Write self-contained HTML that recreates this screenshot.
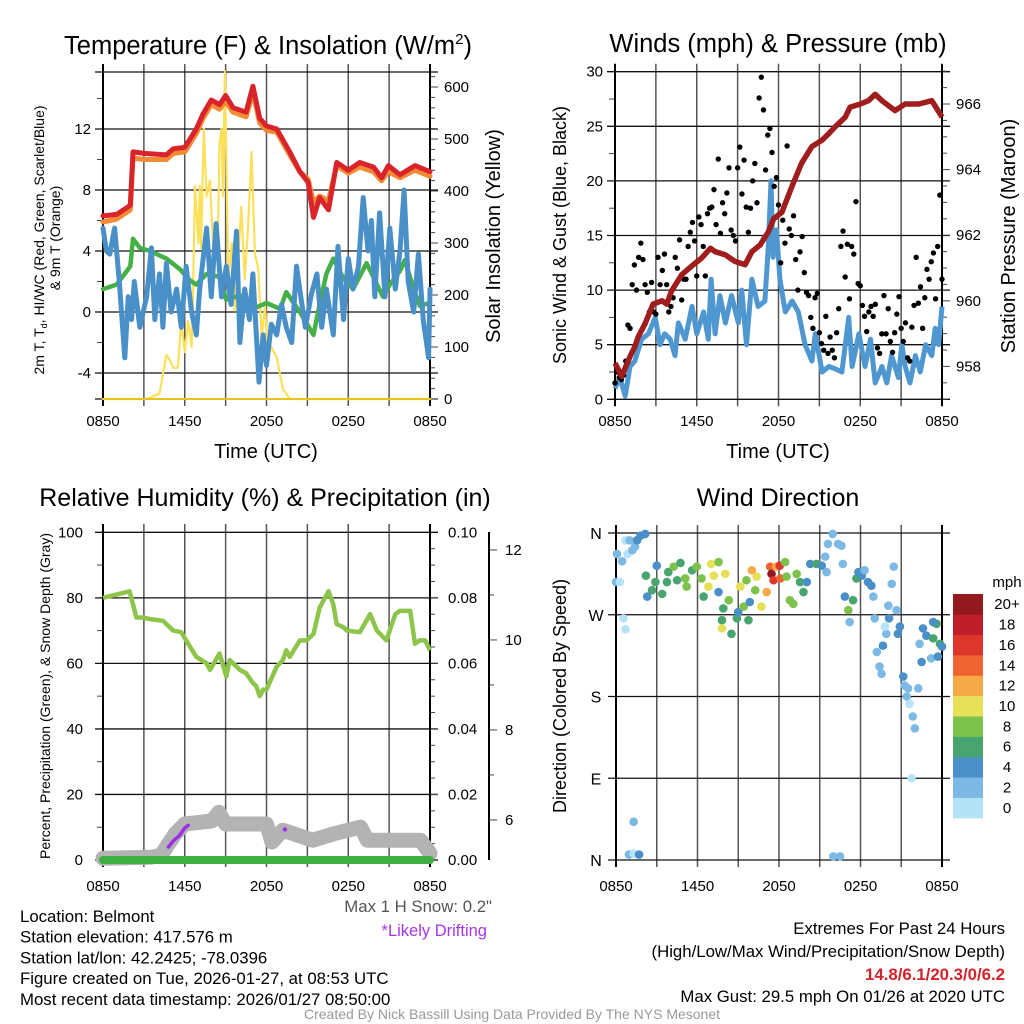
<!DOCTYPE html>
<html><head><meta charset="utf-8"><style>
html,body{margin:0;padding:0;background:#fff;}
svg{display:block;font-family:"Liberation Sans",sans-serif;}
</style></head><body>
<svg id="chart" width="1024" height="1024" viewBox="0 0 1024 1024" xmlns="http://www.w3.org/2000/svg">
<g id="g1"></g>
<g id="g2"></g>
<g id="g3"></g>
<g id="g4"></g>
<g id="txt"></g>
</svg>
<script>
// ---------- Panel 1 data ----------
const xTickLabels = ["0850","1450","2050","0250","0850"];
const tempLeftTicks = [-4,0,4,8,12];
const solarTicks = [0,100,200,300,400,500,600];
const redHours = [0,1.0,2.0,2.2,3.0,4.65,5.15,6.0,6.85,7.35,7.95,8.55,9.0,9.55,10.5,11.0,11.5,12.0,12.75,13.7,14.45,15.05,15.45,15.9,16.55,17.15,18.0,18.85,19.85,20.45,20.95,21.8,22.9,24];
const redTemp = [6.3,6.4,7.0,10.5,10.4,10.3,10.7,10.8,12.0,13.0,13.9,13.6,14.2,13.4,13.1,14.8,12.7,12.2,12.0,10.5,9.2,8.5,6.2,7.5,6.7,9.8,9.3,9.8,9.5,8.8,9.6,9.0,9.6,9.2];
const orangeTemp = [5.9,6.1,6.7,10.1,10.0,10.0,10.4,10.5,11.7,12.7,13.6,13.3,13.8,13.1,12.8,14.4,12.4,11.9,11.8,10.3,9.2,8.7,7.2,7.6,7.3,9.6,9.1,9.5,9.2,8.6,9.2,8.8,9.3,8.9];
const solarHours = [0,3.2,4.15,4.65,4.9,5.15,5.5,5.75,6.0,6.25,6.5,6.6,6.75,7.0,7.1,7.2,7.4,7.6,7.85,8.1,8.45,8.55,8.7,8.8,8.95,9.2,9.45,9.65,9.9,10.15,10.4,10.65,10.9,11.15,11.4,11.65,11.9,12.1,12.35,12.75,13.2,13.7,24];
const solarVals = [0,0,10,85,75,60,60,150,90,150,100,190,410,300,410,290,520,390,420,280,330,490,520,390,630,230,300,170,260,370,230,330,475,280,250,120,180,80,100,80,20,0,0];
const greenHours = [0,1.0,2.0,2.2,2.7,3.45,4.65,5.65,6.35,6.85,7.6,8.55,9.05,10.05,11.0,12.0,13.0,13.45,14.45,15.45,15.9,16.4,16.9,17.65,18.35,19.35,20.55,21.05,21.8,22.15,22.8,23.25,24];
const greenVals = [1.5,1.8,3.0,4.8,4.2,4.0,3.5,2.8,2.1,1.8,2.5,2.3,0.8,1.1,0.2,0.6,0.2,1.3,0.0,-1.5,0.5,2.5,3.5,2.2,1.5,3.2,1.0,1.8,2.7,3.4,1.5,0.4,0.6];
const blueHours = [0,0.25,0.5,0.85,1.2,1.6,1.85,2.1,2.3,2.7,3.2,3.55,3.8,4.15,4.4,4.65,5.0,5.4,5.75,6.1,6.5,6.85,7.1,7.6,7.95,8.3,8.7,9.05,9.4,9.8,10.05,10.4,10.75,11.0,11.45,11.75,12.0,12.35,12.75,13.1,13.45,13.85,14.2,14.6,14.85,15.3,15.7,16.05,16.4,16.9,17.25,17.65,18.0,18.35,18.75,19.1,19.45,19.7,19.95,20.3,20.7,21.05,21.45,21.8,22.1,22.4,22.8,23.15,23.5,23.9,24];
const blueVals = [5.5,4,3.8,5.5,2,-3,1,-0.5,2,-1,1,4.2,-0.5,2.5,-1,3.2,0,1.5,-1,3,0,-1.5,1.5,5.5,1,5.8,1,3,0.5,5.3,-2,1.5,-0.5,2.5,-4.6,-1.5,-3.5,-0.8,-1.5,0.5,-1,-2,3,0.5,-1,1.2,2.5,-1,1.5,-1.5,4.3,-0.5,3.5,1.5,3,7.5,4,6,1,6.5,1,5.5,1.5,4,8,2,0,3.8,-0.5,-3,1.5];
// ---------- Panel 2 data ----------
const windTicks = [0,5,10,15,20,25,30];
const pressTicks = [958,960,962,964,966];
const windHours = [0,0.35,0.75,1.1,1.45,1.95,2.45,2.95,3.3,3.65,4.05,4.4,4.65,5.15,5.65,6.0,6.5,6.85,7.05,7.35,7.7,8.1,8.55,9.05,9.3,9.65,10.05,10.5,11.0,11.25,11.45,11.6,11.85,12.1,12.5,13.0,13.45,13.95,14.45,14.7,15.2,15.7,16.15,16.65,17.15,17.4,17.9,18.35,18.75,19.1,19.6,19.95,20.3,20.8,21.05,21.3,21.65,22.05,22.4,22.8,23.25,23.5,23.75,24];
const windVals = [1,2,0.3,3,3.5,5.5,6,7.5,5,6,5.5,4,7,5.5,8.5,6,8,5.5,11,6,9.5,7,9.5,7,10,5,11,8.5,9,14,20,13,15.5,11,8,9,8,5,3.5,6,2.5,3,2.8,2.5,7.5,3,6,3,5.5,1.5,3,1.5,4,2,5,3,1.5,4,2.5,5,4,6.5,5,8.5];
const gustVals = [1.5,2.5,2,1.8,2.2,3.5,6.8,6.5,10.5,12.3,10,13,14.3,12.8,10.5,9.8,8,10.7,8,7.8,13,10.5,11.8,13.3,10.5,8,8.5,9.3,13,12,14.6,9.1,11,11,14,15.3,16.2,14.5,11.3,16.7,16,14,11.3,17,17.5,17.6,19.2,16,22,15.2,18,17,18.9,21.2,15.5,15,14.5,21.2,23.1,18.8,21.9,17.6,15.3,17.5,20,21.6,18,27.6,29.5,26.5,21,24.2,24.8,22.6,19.5,20.3,17.8,12.5,16.4,14.3,23.2,15.6,15,16.8,12.8,10,13.5,14.9,11.6,9.8,9.5,7.5,6.5,9.3,9.7,6.1,5.1,4.5,7.6,4.2,5.7,4.5,3.8,6.1,8.3,14,15.4,11.2,14.2,9.2,14,13.3,18.1,10.6,10.4,8.6,7.6,6.2,8,8.5,7.6,8.7,4.7,4.2,6,9.5,6,8.3,5.3,4.3,6.1,7.8,9.4,6.5,5.3,7,3.8,3.5,6.6,8.6,13,8.8,10.3,6.5,9.3,11.9,11,12.6,13.4,9.2,14,18.7,11];
const pressHours = [0,0.5,1.1,1.45,1.7,2.2,2.8,3.45,3.8,4.15,4.9,5.75,6.35,7.0,7.35,8.1,8.8,9.55,10.05,10.65,11.25,11.65,12.25,13.0,13.7,14.45,15.2,15.7,16.15,16.9,17.25,18.0,18.6,19.1,19.6,20.55,21.3,22.3,23.25,24];
const pressVals = [958.1,957.7,958.3,958.6,958.9,959.3,959.9,960.0,959.9,960.3,960.8,961.1,961.3,961.6,961.5,961.4,961.2,961.1,961.5,961.7,962.1,962.5,962.7,963.5,964.2,964.7,964.9,965.1,965.3,965.6,965.9,966.0,966.1,966.3,966.1,965.8,966.0,966.0,966.1,965.6];
// ---------- Panel 3 data ----------
const rhTicks = [0,20,40,60,80,100];
const precipTickLabels = ["0.00","0.02","0.04","0.06","0.08","0.10"];
const snowTicks = [6,8,10,12];
const rhHours = [0,1.95,2.45,2.95,3.45,4.4,5.15,5.75,6.1,6.85,7.6,7.85,8.55,9.05,9.3,10.05,10.5,11.0,11.25,11.5,11.75,12.0,12.75,13.2,13.45,13.7,14.45,14.95,15.45,15.9,16.55,16.9,17.15,17.65,17.9,18.85,19.6,20.1,20.8,21.45,21.8,22.55,22.9,23.25,23.65,24];
const rhVals = [80,82,74,74,73.5,73,70,69.5,67,62,60,58,63,56,61,58,57,54,53,50,52,52,59,61,64,62,67,67,69,77,82,78,72,71,70,69.5,75,70,67,75,76,76,66,67,67,64];
const precipHours = [0,24];
const precipVals = [0,0];
const snowHours = [0,3.5,4.3,4.65,5.3,6.0,8.0,8.5,9.0,12.0,12.4,13.2,14.0,15.4,16.9,18.9,19.4,23.3,24];
const snowVals = [5.15,5.17,5.22,5.40,5.69,5.91,5.98,6.17,5.91,5.91,5.51,5.77,5.69,5.55,5.69,5.84,5.55,5.55,5.26];
const driftHours = [4.8,5.2,5.6,6.0,6.25];
const driftVals = [5.40,5.55,5.65,5.82,5.88];
const driftDotHour = [13.35];
const driftDotVal = [5.79];
// ---------- Panel 4 data ----------
const dirTickLabels = ["N","E","S","W","N"];
const dirTicks = [0,90,180,270,360];
const speedBins = ["0","2","4","6","8","10","12","14","16","18","20+"];
const speedColors = ["#b4e3f8","#7cb9e4","#4a8fc7","#48a56f","#7dc24b","#e6e058","#f6a947","#ef6330","#dd372b","#bf1f2a","#921a1e"];
const dirHours = [0.0,0.07,0.3,0.45,0.7,1.0,0.85,1.2,1.4,1.55,1.8,2.15,2.3,2.2,2.65,2.9,3.0,3.4,3.75,3.85,4.25,4.5,4.75,5.1,5.2,5.6,5.95,6.3,6.45,6.8,7.0,7.2,7.55,7.55,7.8,7.9,8.05,8.3,7.8,8.5,8.9,9.0,9.15,9.4,9.75,9.85,9.6,10.0,10.25,10.35,10.7,11.1,11.35,11.45,11.6,11.8,12.05,12.1,12.45,12.55,12.8,13.05,13.3,13.55,13.8,14.05,14.3,14.75,15.15,15.5,15.4,15.6,15.95,16.35,16.6,16.7,16.85,17.1,17.2,17.45,17.7,17.85,18.1,18.3,18.55,18.8,18.95,19.05,19.2,19.4,19.55,19.65,19.9,20.05,20.1,20.3,20.45,20.65,20.75,20.9,21.15,21.25,21.5,21.4,21.6,21.85,22.0,22.25,22.5,22.35,22.6,22.85,23.2,23.35,23.6,23.7,23.85,24.0,23.35,21.75,19.8,0.55,0.7,1.3,0.95,1.3,1.7,16.0,16.5];
const dirDeg = [306,337,306,329,352,352,337,341,345,352,357,359,290,313,297,306,324,293,306,317,323,308,327,310,301,319,323,310,290,301,326,313,328,295,264,277,315,286,255,249,266,273,301,279,264,284,308,319,297,312,279,295,323,315,308,323,324,310,328,312,286,282,315,306,295,306,326,326,324,317,334,348,359,348,346,326,290,275,262,286,310,317,313,319,306,302,290,266,229,213,205,236,249,280,266,304,323,275,249,257,202,192,189,180,172,158,145,189,218,238,255,247,222,244,260,224,238,235,262,90,257,266,254,42,6,7,6,4,4];
const dirSpeed = [2,2,0,2,0,2,0,2,2,4,4,4,4,6,6,6,4,6,6,6,8,6,6,8,8,6,8,8,6,10,10,10,8,4,6,6,10,8,10,6,6,4,10,8,6,4,8,12,8,10,10,12,14,20,16,12,16,14,8,8,8,8,8,6,6,4,4,6,4,2,2,2,2,2,2,2,4,8,2,6,6,4,4,2,4,4,2,2,2,2,2,4,2,2,4,2,2,2,4,4,4,2,2,2,0,2,2,2,4,2,4,4,2,6,6,4,6,4,4,0,0,0,0,2,2,0,4,2,2];

// ---------- helpers ----------
const NS = "http://www.w3.org/2000/svg";
function mk(parent, tag, attrs, text) {
  const e = document.createElementNS(NS, tag);
  for (const k in attrs) e.setAttribute(k, attrs[k]);
  if (text !== undefined) e.textContent = text;
  parent.appendChild(e);
  return e;
}
function pathD(xs, ys, fx, fy) {
  let d = "";
  const n = Math.min(xs.length, ys.length);
  for (let i = 0; i < n; i++) d += (i ? "L" : "M") + fx(xs[i]).toFixed(1) + "," + fy(ys[i]).toFixed(1);
  return d;
}
function timeAxis(g, X0, X1, yTop, yBot, labelY) {
  const fx = h => X0 + h / 24 * (X1 - X0);
  for (let h = 0; h <= 24; h += 3) {
    const l = mk(g, "line", {x1: fx(h), x2: fx(h), y1: yTop - 8, y2: yBot + 7, stroke: (h === 0 || h === 24) ? "#000" : "#555", "stroke-width": (h === 0 || h === 24) ? 2 : 1.5});
    
    
  }
  xTickLabels.forEach((t, i) => {
    const tx = mk(g, "text", {x: fx(i * 6), y: labelY, "font-size": 15, "text-anchor": "middle"}, t);
    
    
  });
  return fx;
}
function hLine(g, X0, X1, y, ext) {
  const l = mk(g, "line", {x1: X0 - (ext || 8), x2: X1 + 8, y1: y, y2: y, stroke: "#111", "stroke-width": 1.3});
  
  
}
function txt(g, x, y, s, size, attrs, name) {
  const a = Object.assign({x: x, y: y, "font-size": size}, attrs || {});
  const t = mk(g, "text", a, s);
  
  
  return t;
}
function minor(g, x, y, len) {
  const l = mk(g, "line", {x1: x, x2: x + len, y1: y, y2: y, stroke: "#444", "stroke-width": 1});
  
  
}

// ---------- Panel 1 ----------
(function () {
  const g = document.getElementById("g1");
  const X0 = 103, X1 = 430, T = 72, B = 399;
  const yL = v => 312 - 15.25 * v;
  const yR = w => 399 - 0.52 * w;
  const fx = timeAxis(g, X0, X1, T, B, 426);
  hLine(g, X0, X1, T, 0); hLine(g, X0, X1, B, 0);
  tempLeftTicks.forEach(v => { hLine(g, X0, X1, yL(v)); txt(g, X0 - 12, yL(v) + 5, String(v), 15, {"text-anchor": "end"}, "y-tick-label"); });
  [-2,2,6,10,14].forEach(v => minor(g, X0 - 6, yL(v), 6));
  for (let w = 0; w <= 620; w += 20) minor(g, X1, yR(w), w % 100 === 0 ? 8 : 5);
  solarTicks.forEach(w => txt(g, X1 + 14, yR(w) + 5, String(w), 15, {}, "solar-tick-label"));
  mk(g, "line", {x1: X0, x2: X0, y1: 64, y2: 406, stroke: "#000", "stroke-width": 2});
  mk(g, "line", {x1: X1, x2: X1, y1: 64, y2: 406, stroke: "#000", "stroke-width": 2});
  const series = [
    [solarHours, solarVals, yR, "#fde05a", 2.2, "solar-line"],
    [greenHours, greenVals, yL, "#45b046", 4.5, "dewpoint-line"],
    [blueHours, blueVals, yL, "#4a90c8", 5, "windchill-line"],
    [redHours, orangeTemp, yL, "#f38a34", 5, "temp-9m-line"],
    [redHours, redTemp, yL, "#d8242a", 5, "temp-2m-line"]
  ];
  series.forEach(s => {
    const p = mk(g, "path", {d: pathD(s[0], s[1], fx, s[2]), fill: "none", stroke: s[3], "stroke-width": s[4], "stroke-linejoin": "round", "stroke-linecap": "round"});
    
    
  });
  mk(g, "line", {x1: X0, x2: X1, y1: B, y2: B, stroke: "#e8c21e", "stroke-width": 2});
  const tt = txt(g, 268, 54, "Temperature (F) & Insolation (W/m", 25.5, {"text-anchor": "middle"}, "panel-title");
  mk(tt, "tspan", {"font-size": 15, dy: -10}, "2");
  mk(tt, "tspan", {dy: 10}, ")");
  txt(g, 266, 458, "Time (UTC)", 20, {"text-anchor": "middle"}, "x-axis-title");
  txt(g, 0, 0, "2m T, T", 14, {transform: "translate(44,240) rotate(-90)", "text-anchor": "middle"}, "y-axis-title").innerHTML = '2m T, T<tspan font-size="9" dy="3">d</tspan><tspan dy="-3">, HI/WC (Red, Green, Scarlet/Blue)</tspan>';
  txt(g, 0, 0, "& 9m T (Orange)", 14, {transform: "translate(60,238) rotate(-90)", "text-anchor": "middle"}, "y-axis-title-line2");
  txt(g, 0, 0, "Solar Insolation (Yellow)", 20, {transform: "translate(500,236) rotate(-90)", "text-anchor": "middle"}, "right-axis-title");
})();

// ---------- Panel 2 ----------
(function () {
  const g = document.getElementById("g2");
  const X0 = 615, X1 = 942, T = 71.7, B = 399.3;
  const yW = v => 399.3 - 10.92 * v;
  const yP = p => 104 + (966 - p) * 32.8;
  const fx = timeAxis(g, X0, X1, T, B, 426);
  windTicks.forEach(v => { hLine(g, X0, X1, yW(v)); txt(g, X0 - 12, yW(v) + 5, String(v), 15, {"text-anchor": "end"}, "y-tick-label"); });
  [2.5,7.5,12.5,17.5,22.5,27.5].forEach(v => minor(g, X0 - 6, yW(v), 6));
  for (let p = 957; p <= 967.01; p += 0.5) minor(g, X1, yP(p), Math.abs(p % 2) < 0.01 ? 8 : 5);
  pressTicks.forEach(p => txt(g, X1 + 14, yP(p) + 5, String(p), 15, {}, "pressure-tick-label"));
  mk(g, "line", {x1: X0, x2: X0, y1: 64, y2: 406, stroke: "#000", "stroke-width": 2});
  mk(g, "line", {x1: X1, x2: X1, y1: 64, y2: 406, stroke: "#000", "stroke-width": 2});
  const wl = mk(g, "path", {d: pathD(windHours, windVals, fx, yW), fill: "none", stroke: "#4f97d0", "stroke-width": 5, "stroke-linejoin": "round"});
  
  
  const n = gustVals.length;
  gustVals.forEach((v, i) => {
    const c = mk(g, "circle", {cx: fx(i * 24 / (n - 1)), cy: yW(v), r: 2.7, fill: "#000"});
    
    
  });
  const pl = mk(g, "path", {d: pathD(pressHours, pressVals, fx, yP), fill: "none", stroke: "#a01d1d", "stroke-width": 5.5, "stroke-linejoin": "round"});
  
  
  txt(g, 778, 52, "Winds (mph) & Pressure (mb)", 25.5, {"text-anchor": "middle"}, "panel-title");
  txt(g, 778, 458, "Time (UTC)", 20, {"text-anchor": "middle"}, "x-axis-title");
  txt(g, 0, 0, "Sonic Wind & Gust (Blue, Black)", 18, {transform: "translate(566,235) rotate(-90)", "text-anchor": "middle"}, "y-axis-title");
  txt(g, 0, 0, "Station Pressure (Maroon)", 20, {transform: "translate(1015,236) rotate(-90)", "text-anchor": "middle"}, "right-axis-title");
})();

// ---------- Panel 3 ----------
(function () {
  const g = document.getElementById("g3");
  const X0 = 103, X1 = 430, T = 532, B = 860;
  const yH = v => 860 - 3.277 * v;
  const yS = s => 860 - (s - 5.11) * 45;
  const fx = timeAxis(g, X0, X1, T, B, 891);
  rhTicks.forEach((v, i) => {
    hLine(g, X0, X1, yH(v));
    txt(g, X0 - 20, yH(v) + 5, String(v), 15, {"text-anchor": "end"}, "y-tick-label");
    txt(g, X1 + 18, yH(v) + 5, precipTickLabels[i], 15, {}, "precip-tick-label");
  });
  for (let v = 10; v < 100; v += 20) minor(g, X0 - 6, yH(v), 6);
  for (let v = 5; v < 100; v += 5) minor(g, X1, yH(v), v % 20 === 0 ? 8 : 5);
  mk(g, "line", {x1: X0, x2: X0, y1: 525, y2: 866, stroke: "#000", "stroke-width": 2});
  mk(g, "line", {x1: X1, x2: X1, y1: 525, y2: 866, stroke: "#000", "stroke-width": 2});
  mk(g, "line", {x1: 489, x2: 489, y1: 532, y2: 860, stroke: "#000", "stroke-width": 2});
  snowTicks.forEach(s => { minor(g, 489, yS(s), 8); txt(g, 505, yS(s) + 5, String(s), 15, {}, "snow-tick-label"); });
  [7,9,11].forEach(s => minor(g, 489, yS(s), 5));
  const sl = mk(g, "path", {d: pathD(snowHours, snowVals, fx, yS), fill: "none", stroke: "#b3b3b3", "stroke-width": 15, "stroke-linejoin": "round", "stroke-linecap": "round"});
  
  
  const pr = mk(g, "path", {d: pathD(precipHours, precipVals, fx, v => yH(v * 1000)), fill: "none", stroke: "#3fae43", "stroke-width": 8, "stroke-linecap": "round"});
  
  
  const dr = mk(g, "path", {d: pathD(driftHours, driftVals, fx, yS), fill: "none", stroke: "#9b30e8", "stroke-width": 3.5, "stroke-linecap": "round"});
  
  
  const dd = mk(g, "circle", {cx: fx(driftDotHour[0]), cy: yS(driftDotVal[0]), r: 2.2, fill: "#9b30e8"});
  
  
  const rl = mk(g, "path", {d: pathD(rhHours, rhVals, fx, yH), fill: "none", stroke: "#8dc44a", "stroke-width": 4.5, "stroke-linejoin": "round"});
  
  
  txt(g, 265, 506, "Relative Humidity (%) & Precipitation (in)", 25, {"text-anchor": "middle"}, "panel-title");
  txt(g, 0, 0, "Percent, Precipitation (Green), & Snow Depth (Gray)", 14, {transform: "translate(50,696) rotate(-90)", "text-anchor": "middle"}, "y-axis-title");
  txt(g, 492, 912, "Max 1 H Snow: 0.2\"", 16.8, {"text-anchor": "end", fill: "#555"}, "max-snow-note");
  txt(g, 487, 936, "*Likely Drifting", 16.5, {"text-anchor": "end", fill: "#a735e8"}, "drifting-note");
})();

// ---------- Panel 4 ----------
(function () {
  const g = document.getElementById("g4");
  const X0 = 616, X1 = 942, T = 533, B = 860;
  const yD = d => 860 - d * 0.9083;
  const fx = timeAxis(g, X0, X1, T, B, 891);
  dirTicks.forEach((d, i) => { hLine(g, X0, X1, yD(d)); txt(g, X0 - 20, yD(d) + 6, dirTickLabels[i], 16, {"text-anchor": "middle"}, "direction-tick-label"); });
  mk(g, "line", {x1: X0, x2: X0, y1: 525, y2: 866, stroke: "#000", "stroke-width": 2});
  mk(g, "line", {x1: X1, x2: X1, y1: 525, y2: 866, stroke: "#000", "stroke-width": 2});
  const n = Math.min(dirHours.length, dirDeg.length, dirSpeed.length);
  for (let i = 0; i < n; i++) {
    let bin = Math.min(10, Math.floor(dirSpeed[i] / 2));
    const c = mk(g, "circle", {cx: fx(dirHours[i]), cy: yD(dirDeg[i]), r: 4.3, fill: speedColors[bin]});
    
    
  }
  const bh = (818 - 594) / speedBins.length;
  speedBins.forEach((lab, i) => {
    const y = 818 - (i + 1) * bh;
    const r = mk(g, "rect", {x: 953, y: y, width: 30, height: bh + 0.3, fill: speedColors[i]});
    
    
    txt(g, 1007, y + bh / 2 + 5, lab, 15, {"text-anchor": "middle"}, "colorbar-label");
  });
  txt(g, 1007, 587, "mph", 15, {"text-anchor": "middle"}, "colorbar-title");
  txt(g, 778, 506, "Wind Direction", 25, {"text-anchor": "middle"}, "panel-title");
  txt(g, 0, 0, "Direction (Colored By Speed)", 18, {transform: "translate(566,696) rotate(-90)", "text-anchor": "middle"}, "y-axis-title");
})();

// ---------- footer ----------
(function () {
  const g = document.getElementById("txt");
  const left = ["Location: Belmont","Station elevation: 417.576 m","Station lat/lon: 42.2425; -78.0396","Figure created on Tue, 2026-01-27, at 08:53 UTC","Most recent data timestamp: 2026/01/27 08:50:00"];
  left.forEach((s, i) => txt(g, 20, 922 + i * 20.7, s, 16.8, {}, "station-info-line"));
  txt(g, 1005, 934, "Extremes For Past 24 Hours", 16.8, {"text-anchor": "end"}, "extremes-title");
  txt(g, 1005, 957, "(High/Low/Max Wind/Precipitation/Snow Depth)", 16.8, {"text-anchor": "end"}, "extremes-subtitle");
  txt(g, 1005, 980, "14.8/6.1/20.3/0/6.2", 16.8, {"text-anchor": "end", fill: "#d2232a", "font-weight": "bold"}, "extremes-values");
  txt(g, 1005, 1002, "Max Gust: 29.5 mph On 01/26 at 2020 UTC", 16.8, {"text-anchor": "end"}, "max-gust-note");
  txt(g, 512, 1019, "Created By Nick Bassill Using Data Provided By The NYS Mesonet", 14, {"text-anchor": "middle", fill: "#999"}, "credit-line");
})();
</script>
</body></html>
